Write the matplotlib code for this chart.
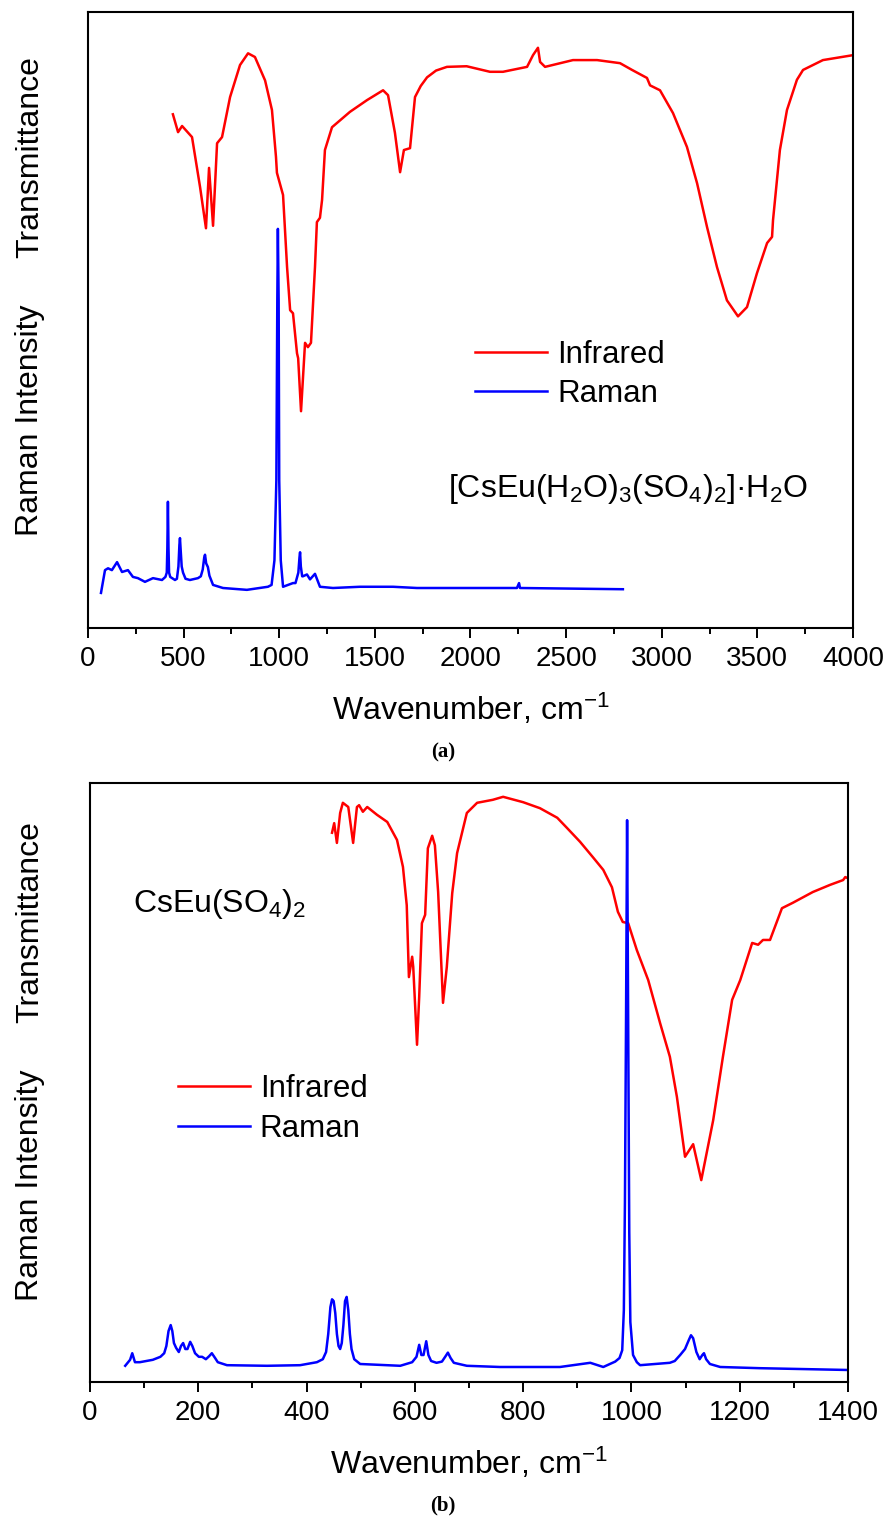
import matplotlib
matplotlib.use("Agg")
import matplotlib.pyplot as plt
from matplotlib.ticker import MultipleLocator

SANS = ["Liberation Sans", "DejaVu Sans"]

# ---- panel (a): [CsEu(H2O)3(SO4)2]·H2O ----
ir_a_x = [444, 471, 492, 544, 586, 617, 633, 654, 675, 701, 743, 795, 837, 873, 926,
          962, 983, 988, 1020, 1041, 1057, 1072, 1093, 1099, 1114, 1135, 1150, 1166,
          1187, 1197, 1213, 1224, 1239, 1276, 1370, 1459, 1543, 1569, 1605, 1632, 1652,
          1684, 1710, 1740, 1773, 1820, 1877, 1980, 2102, 2170, 2296, 2327, 2353, 2364,
          2390, 2536, 2662, 2782, 2845, 2923, 2939, 2991, 3059, 3132, 3185, 3237, 3289,
          3341, 3399, 3446, 3498, 3551, 3577, 3582, 3618, 3655, 3707, 3739, 3843, 4000]
ir_a_y = [83.4, 80.5, 81.5, 79.7, 71.6, 64.9, 74.7, 65.3, 78.7, 79.7, 86.2, 91.4, 93.3,
          92.7, 88.9, 84.1, 76.5, 73.9, 70.3, 58.6, 51.6, 51.1, 44.6, 43.8, 35.2, 46.3,
          45.6, 46.3, 58.6, 65.9, 66.6, 69.5, 77.6, 81.3, 83.8, 85.7, 87.3, 86.5, 80.4,
          74.0, 77.6, 77.9, 86.2, 88.0, 89.4, 90.5, 91.1, 91.2, 90.3, 90.3, 91.1, 93.0,
          94.2, 91.9, 91.1, 92.2, 92.2, 91.7, 90.6, 89.3, 88.1, 87.3, 83.6, 78.1, 72.2,
          65.1, 58.6, 53.2, 50.6, 52.1, 57.6, 62.5, 63.5, 66.2, 77.6, 84.1, 89.0, 90.6,
          92.2, 93.0]

raman_a_x = [68, 89, 105, 125, 152, 178, 209, 235, 261, 298, 340, 387, 405, 412, 415,
             418, 421, 424, 430, 455, 465, 473, 478, 481, 485, 490, 497, 510, 533, 575,
             590, 600, 608, 612, 618, 627, 635, 654, 706, 831, 941, 960, 975, 985, 990,
             993, 997, 1000, 1008, 1020, 1072, 1085, 1100, 1106, 1109, 1113, 1120, 1124,
             1145, 1161, 1187, 1213, 1281, 1422, 1595, 1720, 2243, 2254, 2259, 2797]
raman_a_y = [5.7, 9.4, 9.7, 9.4, 10.7, 9.1, 9.4, 8.3, 8.1, 7.5, 8.1, 7.8, 8.3, 9.0, 13.0,
             20.5, 13.0, 9.0, 8.3, 7.8, 8.0, 10.0, 13.5, 14.6, 12.5, 10.0, 9.0, 8.0, 7.8,
             8.1, 8.4, 9.5, 11.5, 11.9, 10.5, 9.9, 8.5, 7.0, 6.5, 6.2, 6.7, 7.0, 11.0,
             24.0, 53.2, 64.8, 53.2, 24.0, 11.0, 6.7, 7.3, 7.3, 9.0, 11.5, 12.3, 10.0,
             8.4, 8.4, 8.7, 7.9, 8.8, 6.7, 6.5, 6.7, 6.7, 6.5, 6.5, 7.3, 6.5, 6.3]

# ---- panel (b): CsEu(SO4)2 ----
ir_b_x = [447, 451, 456, 462, 467, 477, 486, 493, 497, 504, 512, 530, 549, 567, 578, 585,
          589, 595, 597, 604, 608, 613, 619, 624, 632, 637, 643, 652, 659, 669, 678, 696,
          715, 744, 763, 800, 831, 863, 881, 905, 929, 948, 964, 975, 984, 994, 1010,
          1031, 1053, 1071, 1084, 1099, 1114, 1129, 1151, 1169, 1186, 1201, 1223, 1234,
          1243, 1256, 1278, 1298, 1335, 1367, 1391, 1395, 1400]
ir_b_y = [91.7, 93.3, 90.0, 95.0, 96.7, 96.0, 90.0, 96.0, 96.3, 95.2, 96.0, 94.7, 93.5,
          90.5, 86.0, 79.6, 67.6, 71.0, 69.3, 56.3, 64.3, 76.6, 78.0, 89.1, 91.2, 89.6,
          81.8, 63.3, 69.3, 81.6, 88.3, 95.0, 96.7, 97.2, 97.7, 96.8, 95.8, 94.2, 92.5,
          90.2, 87.6, 85.5, 82.6, 78.5, 76.8, 76.6, 72.1, 67.1, 59.9, 54.3, 47.6, 37.6,
          39.7, 33.7, 43.7, 54.3, 63.8, 67.1, 73.3, 73.0, 73.8, 73.8, 79.1, 80.0, 81.8,
          83.0, 83.8, 84.3, 84.1]

raman_b_x = [65, 74, 78, 83, 92, 116, 130, 137, 141, 145, 149, 152, 155, 159, 164, 168,
             172, 176, 180, 185, 189, 194, 201, 207, 214, 220, 225, 231, 236, 253, 327,
             388, 419, 430, 436, 440, 444, 447, 450, 453, 456, 459, 462, 465, 468, 471,
             474, 477, 480, 483, 488, 499, 573, 595, 603, 608, 612, 616, 621, 625, 630,
             640, 650, 656, 661, 666, 672, 696, 757, 868, 924, 948, 970, 978, 983, 986,
             988, 990, 992, 994, 996, 998, 1003, 1010, 1016, 1071, 1080, 1090, 1099, 1106,
             1110, 1114, 1120, 1126, 1131, 1134, 1138, 1145, 1164, 1237, 1400]
raman_b_y = [2.7, 3.7, 4.8, 3.3, 3.3, 3.7, 4.2, 4.8, 6.0, 8.5, 9.5, 8.5, 6.5, 5.7, 5.0,
             6.0, 6.5, 5.5, 5.5, 6.7, 6.0, 4.8, 4.2, 4.2, 3.8, 4.3, 4.8, 4.0, 3.3, 2.8,
             2.7, 2.8, 3.3, 3.8, 5.0, 8.0, 12.5, 13.8, 13.5, 11.5, 8.0, 6.0, 5.5, 6.5,
             9.5, 13.5, 14.2, 12.0, 8.0, 5.5, 3.8, 3.0, 2.7, 3.3, 4.2, 6.2, 4.5, 4.5, 6.8,
             4.5, 3.5, 3.2, 3.4, 4.2, 4.9, 4.0, 3.2, 2.7, 2.5, 2.5, 3.2, 2.5, 3.4, 4.0,
             5.3, 12.0, 30.0, 60.0, 93.8, 60.0, 25.0, 10.0, 4.5, 3.3, 2.8, 3.2, 3.5, 4.5,
             5.5, 7.0, 7.8, 7.3, 5.0, 3.8, 4.5, 4.8, 3.8, 3.0, 2.5, 2.3, 2.0]


def style_axes(ax, xmax, major, minor):
    ax.set_xlim(0, xmax)
    ax.set_ylim(0, 100)
    ax.set_yticks([])
    ax.xaxis.set_major_locator(MultipleLocator(major))
    ax.xaxis.set_minor_locator(MultipleLocator(minor))
    ax.tick_params(axis="x", which="major", direction="out", length=7, width=1.4,
                   labelsize=20, pad=6)
    ax.tick_params(axis="x", which="minor", direction="out", length=4, width=1.4)
    for lab in ax.get_xticklabels():
        lab.set_family(SANS)
    for sp in ax.spines.values():
        sp.set_linewidth(1.5)
    ax.set_xlabel("Wavenumber, cm$\\mathregular{^{-1}}$", family=SANS,
                  fontsize=23, labelpad=14)


fig = plt.figure(figsize=(8.86, 15.24), dpi=100)

# panel (a)
ax1 = fig.add_axes([0.0993, 0.5879, 0.8634, 0.4042])
ax1.plot(ir_a_x, ir_a_y, color="#ff0000", lw=1.8, label="Infrared")
ax1.plot(raman_a_x, raman_a_y, color="#0000ff", lw=1.8, label="Raman")
style_axes(ax1, 4000, 500, 250)
ax1.legend(loc="upper left", bbox_to_anchor=(0.506, 0.468), frameon=False,
           prop={"family": SANS, "size": 22.5}, handlelength=2.3, handletextpad=0.32,
           labelspacing=0.3, borderpad=0, borderaxespad=0)
ax1.text(0.4706, 0.2127,
         "[CsEu(H$\\mathregular{_2}$O)$\\mathregular{_3}$(SO$\\mathregular{_4}$)"
         "$\\mathregular{_2}$]·H$\\mathregular{_2}$O",
         transform=ax1.transAxes, ha="left", va="baseline", family=SANS, fontsize=23)

# panel (b)
ax2 = fig.add_axes([0.1016, 0.0932, 0.8555, 0.3930])
ax2.plot(ir_b_x, ir_b_y, color="#ff0000", lw=1.8, label="Infrared")
ax2.plot(raman_b_x, raman_b_y, color="#0000ff", lw=1.8, label="Raman")
style_axes(ax2, 1400, 200, 100)
ax2.legend(loc="upper left", bbox_to_anchor=(0.116, 0.514), frameon=False,
           prop={"family": SANS, "size": 22.5}, handlelength=2.3, handletextpad=0.32,
           labelspacing=0.33, borderpad=0, borderaxespad=0)
ax2.text(0.0567, 0.785,
         "CsEu(SO$\\mathregular{_4}$)$\\mathregular{_2}$",
         transform=ax2.transAxes, ha="left", va="baseline", family=SANS, fontsize=23)

# stacked y labels
for y, txt in [(0.897, "Transmittance"), (0.7244, "Raman Intensity"),
               (0.395, "Transmittance"), (0.2224, "Raman Intensity")]:
    fig.text(0.034, y, txt, rotation=90, ha="center", va="center",
             family=SANS, fontsize=23)

# panel letters
fig.text(0.5, 1 - 752 / 1524, "(a)", ha="center", va="center",
         family=["Liberation Serif", "DejaVu Serif"], fontsize=15, weight="bold")
fig.text(0.5, 1 - 1505 / 1524, "(b)", ha="center", va="center",
         family=["Liberation Serif", "DejaVu Serif"], fontsize=15, weight="bold")

fig.savefig("out.png", dpi=100)
